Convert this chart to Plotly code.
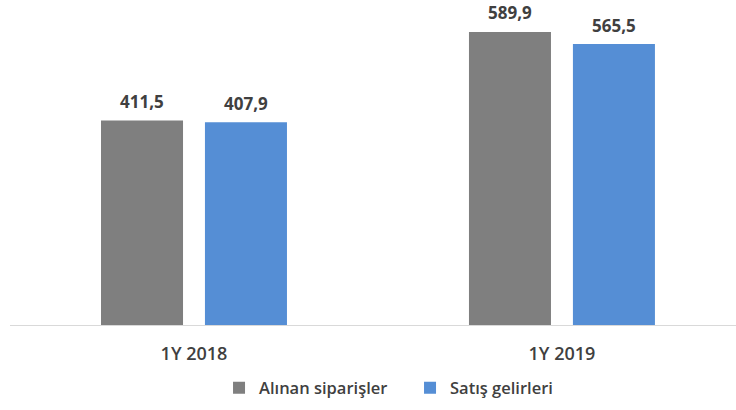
import plotly.graph_objects as go

categories = ["1Y 2018", "1Y 2019"]
series_names = ["Alınan siparişler", "Satış gelirleri"]
orders = [411.5, 589.9]
revenues = [407.9, 565.5]
colors = ["#7f7f7f", "#558ed5"]

def fmt(v):
    return f"{v:.1f}".replace(".", ",")

fig = go.Figure()
for name, vals, col in zip(series_names, [orders, revenues], colors):
    fig.add_trace(go.Bar(x=categories, y=vals, name=name, marker_color=col,
                         marker_line_width=0, hoverinfo="skip"))

annotations = []
for vals, shift in zip([orders, revenues], [-52, 52]):
    for c, v in zip(categories, vals):
        annotations.append(dict(x=c, y=v, xref="x", yref="y", text=fmt(v),
                                showarrow=False, xshift=shift, yshift=19, yanchor="middle",
                                font=dict(family="Open Sans", size=17, weight=700, color="#404040")))

fig.update_layout(
    width=736, height=410,
    margin=dict(l=10, r=0, t=10, b=85),
    paper_bgcolor="white", plot_bgcolor="white",
    barmode="group", bargap=0.435, bargroupgap=0.211,
    showlegend=True,
    legend=dict(orientation="h", x=0.551, xanchor="center", y=-0.2, yanchor="middle",
                font=dict(family="Open Sans", size=16.5, weight=600, color="#404040"), itemwidth=30,
                entrywidth=146, entrywidthmode="pixels",
                traceorder="normal"),
    annotations=annotations,
    font=dict(family="Open Sans", color="#404040"),
)
fig.update_xaxes(type="category", range=[-0.5, 1.473], showline=True, linecolor="#d9d9d9",
                 linewidth=1, ticks="", showgrid=False, zeroline=False,
                 tickfont=dict(family="Open Sans", size=18, weight=600, color="#404040"),
                 ticklabelstandoff=12)
fig.update_yaxes(range=[0, 634], visible=False, showgrid=False, zeroline=False)

fig.write_html("out.html", config={"displayModeBar": False},
               post_script="document.body.style.margin='0';")
